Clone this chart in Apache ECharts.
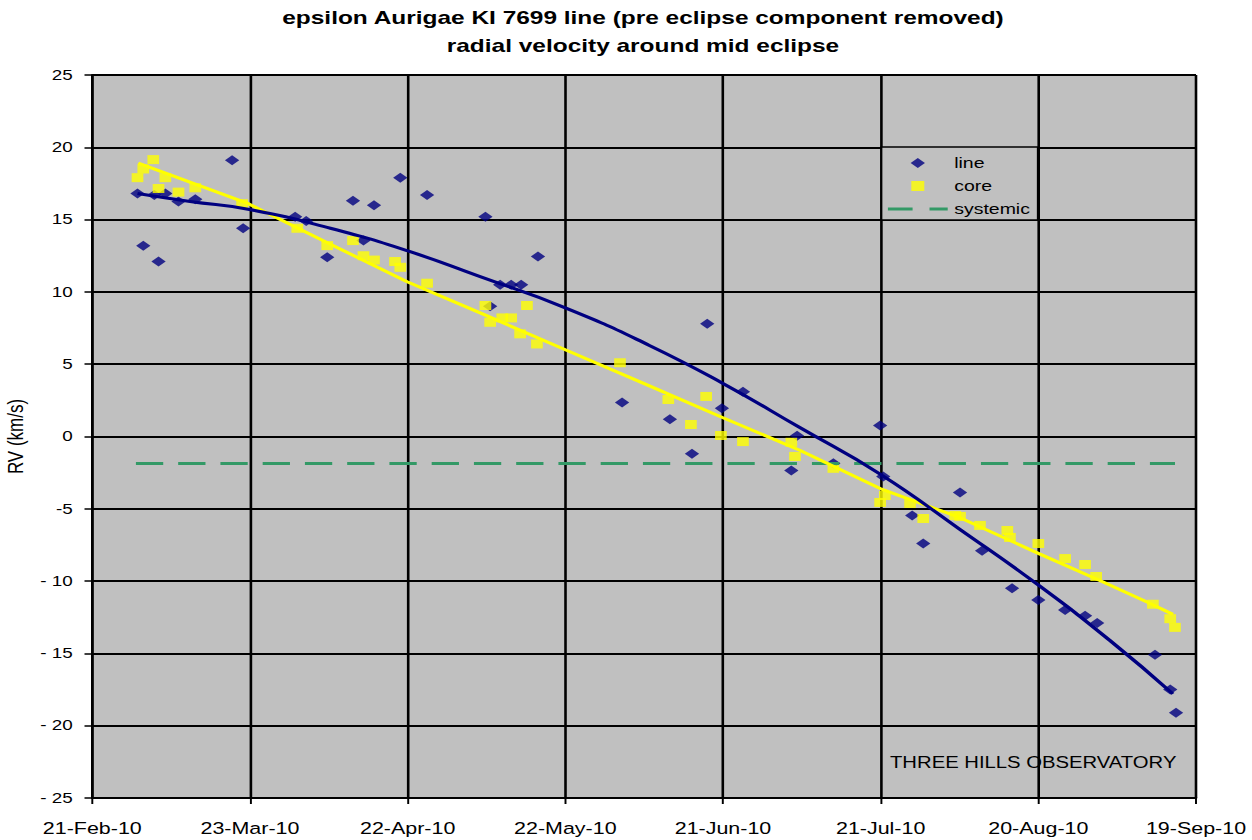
<!DOCTYPE html>
<html>
<head>
<meta charset="utf-8">
<script src="https://cdn.jsdelivr.net/npm/echarts@6/dist/echarts.min.js"></script>
<style>
  html, body { margin: 0; padding: 0; background: #ffffff; overflow: hidden; }
  #wrap { width: 1252px; height: 840px; overflow: hidden; }
  #chart { width: 963px; height: 840px; transform: scaleX(1.3); transform-origin: 0 0; }
</style>
</head>
<body>
<div id="wrap"><div id="chart"></div></div>
<script>
// ---- data (x = days since 21-Feb-10, y = RV in km/s) ----
const xTickLabels = ['21-Feb-10', '23-Mar-10', '22-Apr-10', '22-May-10', '21-Jun-10', '21-Jul-10', '20-Aug-10', '19-Sep-10'];
const yTickLabels = ['- 25', '- 20', '- 15', '- 10', '-5', '0', '5', '10', '15', '20', '25'];

const lineDays = [8.6, 9.7, 11.8, 12.6, 13.9, 16.4, 19.6, 26.6, 28.7, 38.6, 40.7, 44.7, 49.6, 51.6, 53.6, 58.6, 63.7,
  74.8, 75.7, 77.6, 79.7, 81.6, 84.8, 100.8, 109.9, 114.1, 117.0, 119.8, 123.8, 133.0, 134.1, 141.0,
  149.9, 150.5, 156.0, 158.1, 165.1, 169.3, 175.0, 180.0, 185.1, 188.9, 191.2, 202.2, 205.1, 206.2];
const lineRV = [16.8, 13.2, 16.7, 12.1, 16.8, 16.25, 16.4, 19.1, 14.4, 15.2, 14.9, 12.4, 16.3, 13.55, 16.0, 17.9, 16.7,
  15.2, 9.0, 10.5, 10.5, 10.5, 12.45, 2.35, 1.2, -1.2, 7.8, 1.95, 3.1, -2.35, 0.05, -1.85,
  0.76, -2.77, -5.46, -7.4, -3.87, -7.9, -10.5, -11.3, -12.0, -12.4, -12.9, -15.1, -17.5, -19.1];

const coreDays = [8.6, 9.7, 11.6, 12.6, 13.9, 16.4, 19.6, 28.5, 39.0, 44.7, 49.6, 51.6, 53.6, 57.6, 58.6, 63.7,
  74.8, 75.7, 78.0, 79.7, 82.7, 81.4, 84.6, 100.4, 109.6, 113.9, 116.8, 119.6, 123.8, 133.0, 133.7, 141.0,
  149.9, 150.8, 155.6, 158.1, 164.2, 165.1, 168.9, 174.1, 174.6, 180.0, 185.1, 188.9, 191.0, 201.8, 205.1, 206.0];
const coreRV = [17.9, 18.5, 19.15, 17.15, 17.9, 16.9, 17.2, 16.1, 14.4, 13.2, 13.55, 12.5, 12.2, 12.1, 11.7, 10.6,
  9.06, 7.9, 8.2, 8.2, 9.06, 7.1, 6.4, 5.1, 2.56, 0.83, 2.77, 0.07, -0.35, -0.4, -1.38, -2.2,
  -4.56, -4.08, -4.63, -5.67, -5.46, -5.53, -6.15, -6.5, -6.98, -7.4, -8.44, -8.85, -9.68, -11.6, -12.6, -13.2];

const lineTrendDays = [8.6, 18.6, 29.9, 45.3, 59.9, 73.8, 90.0, 106.0, 120.0, 134.7, 149.9, 165.0, 180.1, 193.6, 205.6];
const lineTrendRV = [16.8, 16.25, 15.7, 14.4, 12.85, 11.05, 8.9, 6.3, 3.67, 0.6, -2.6, -6.4, -10.3, -14.1, -17.8];

const coreTrendDays = [8.75, 29.7, 45.3, 59.9, 73.8, 90.0, 106.0, 120.0, 134.7, 149.9, 165.0, 180.1, 191.7, 201.3, 205.6];
const coreTrendRV = [18.9, 16.1, 13.3, 10.7, 8.55, 6.0, 3.5, 1.3, -0.97, -3.6, -5.6, -8.1, -9.96, -11.55, -12.3];

const systemicDays = [8.3, 206.0];
const systemicRV = [-1.87, -1.87];

// ---- build ----
const FONT = "'Liberation Sans', Arial, sans-serif";
const zip = (xs, ys) => xs.map((x, i) => [x, ys[i]]);

const chart = echarts.init(document.getElementById('chart'), null, { renderer: 'svg' });
const option = {
  animation: false,
  backgroundColor: '#ffffff',
  title: {
    text: 'epsilon Aurigae KI 7699 line (pre eclipse component removed)\nradial velocity around mid eclipse',
    left: 494.6,
    textAlign: 'center',
    top: 4,
    padding: 0,
    textStyle: { fontFamily: FONT, fontSize: 18.8, fontWeight: 'bold', lineHeight: 28, color: '#000' }
  },
  grid: { left: 71, right: 43, top: 75, bottom: 42, show: true, backgroundColor: '#c0c0c0', borderWidth: 0, outerBoundsMode: 'none', containLabel: false },
  xAxis: {
    type: 'value', min: 0, max: 210, interval: 30,
    axisLine: { onZero: false, lineStyle: { color: '#000', width: 2 } },
    axisTick: { show: true, length: 6, lineStyle: { color: '#000', width: 1.5 } },
    axisLabel: {
      margin: 22, fontSize: 16.5, fontFamily: FONT, color: '#000', showMinLabel: true, showMaxLabel: true,
      formatter: v => xTickLabels[Math.round(v / 30)]
    },
    splitLine: { show: true, lineStyle: { color: '#000', width: 2 } }
  },
  yAxis: {
    type: 'value', min: -25, max: 25, interval: 5,
    name: 'RV (km/s)', nameLocation: 'middle', nameGap: 45,
    nameTextStyle: { fontFamily: FONT, fontSize: 17, color: '#000' },
    axisLine: { show: true, onZero: false, lineStyle: { color: '#000', width: 2 } },
    axisTick: { show: true, length: 6, lineStyle: { color: '#000', width: 1.5 } },
    axisLabel: {
      margin: 15, fontSize: 14.5, fontFamily: FONT, color: '#000',
      formatter: v => yTickLabels[Math.round((v + 25) / 5)]
    },
    splitLine: { show: true, lineStyle: { color: '#000', width: 2 } }
  },
  legend: {
    data: [
      { name: 'line', icon: 'path://M0,5L5.5,0L11,5L5.5,10Z' },
      { name: 'core', icon: 'path://M0,0H9V9H0Z' },
      { name: 'systemic', icon: 'path://M0,0H19V3H0ZM32,0H46V3H32Z' }
    ],
    orient: 'vertical', left: 678, top: 147,
    padding: [8.5, 6, 3.5, 5],
    itemWidth: 46, itemHeight: 10, itemGap: 8,
    symbolKeepAspect: true,
    itemStyle: { borderWidth: 0 },
    borderColor: '#000', borderWidth: 1.5, backgroundColor: '#c0c0c0',
    selectedMode: false,
    textStyle: { fontFamily: FONT, fontSize: 15, color: '#000' }
  },
  graphic: [{
    type: 'text', x: 684.6, y: 763,
    style: { text: 'THREE HILLS OBSERVATORY', fontFamily: FONT, fontSize: 15.6, fill: '#000', verticalAlign: 'middle', align: 'left' }
  }],
  series: [
    { name: 'line', type: 'scatter', symbol: 'diamond', symbolSize: [11, 10], itemStyle: { color: '#000080' }, data: zip(lineDays, lineRV) },
    { name: 'core', type: 'scatter', symbol: 'rect', symbolSize: [9, 9], itemStyle: { color: '#ffff00' }, data: zip(coreDays, coreRV) },
    { name: 'systemic', type: 'line', symbol: 'none', lineStyle: { color: '#339966', width: 3, type: [21, 11.5] }, itemStyle: { color: '#339966' }, data: zip(systemicDays, systemicRV) },
    { name: 'core trend', type: 'line', symbol: 'none', lineStyle: { color: '#ffff00', width: 3 }, data: zip(coreTrendDays, coreTrendRV) },
    { name: 'line trend', type: 'line', symbol: 'none', smooth: true, lineStyle: { color: '#000080', width: 3 }, data: zip(lineTrendDays, lineTrendRV) }
  ]
};
chart.setOption(option);
</script>
</body>
</html>
